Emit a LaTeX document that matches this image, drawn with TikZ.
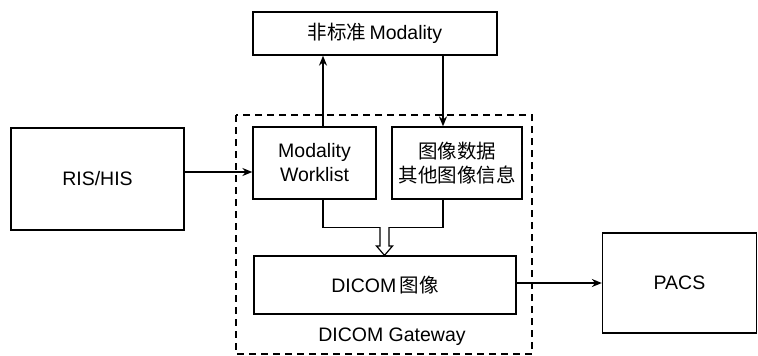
\documentclass[tikz,border=0pt]{standalone}
\usepackage{fontspec}
\setmainfont{Liberation Sans}
\newfontfamily\cjk{Noto Sans CJK SC}
\usetikzlibrary{arrows.meta,calc}
\begin{document}
\begin{tikzpicture}[x=1pt,y=-1pt,
  box/.style={draw,line width=1.3pt,rectangle,inner sep=0pt,align=center,
    font=\fontsize{19.5}{24}\selectfont},
  arr/.style={line width=1.3pt,-{Stealth[length=10pt,width=8pt]}},
  ln/.style={line width=1.3pt}]
\useasboundingbox (0,0) rectangle (758,356);
\fill[white] (0,0) rectangle (758,356);
% dashed gateway frame
\draw[line width=1.6pt,dash pattern=on 7pt off 5pt] (236,115) rectangle (532,354);
\node[font=\fontsize{19.5}{24}\selectfont] (gw) at (392,337) {DICOM Gateway};
% boxes
\node[box,minimum width=244pt,minimum height=43pt] (top) at (375,33.5) {{\cjk 非标准}\,Modality};
\node[box,minimum width=123pt,minimum height=72pt] (wl) at (314.5,163) {Modality\\Worklist};
\node[box,minimum width=130pt,minimum height=72pt] (data) at (457,163) {{\cjk 图像数据}\\{\cjk 其他图像信息}};
\node[box,minimum width=262pt,minimum height=58pt] (dicom) at (385,285) {DICOM\,{\cjk 图像}};
\node[box,minimum width=173pt,minimum height=102pt] (ris) at (97.5,179) {RIS/HIS};
\node[box,minimum width=154pt,minimum height=100pt] (pacs) at (679.5,283) {PACS};
% coordinates
\coordinate (up) at ($(wl.north)+(8.5,0)$);
\coordinate (dn) at ($(data.north)+(-14,0)$);
\coordinate (wb) at ($(wl.south)+(8.5,0)$);
\coordinate (db) at ($(data.south)+(-14,0)$);
\coordinate (jl) at ($(wb)+(0,28)$);
\coordinate (jr) at ($(db)+(0,28)$);
% connectors
\draw[arr] (up) -- (up |- top.south);
\draw[arr] (dn |- top.south) -- (dn);
\draw[arr] (ris.east |- 0,172) -- (wl.west |- 0,172);
\draw[arr] (dicom.east |- 0,283) -- (pacs.west |- 0,283);
\draw[ln] (wb) -- (jl) -- (jr) -- (db);
% hollow double arrow
\coordinate (hb) at (384.5,227);
\draw[line width=1.2pt,fill=white,line join=miter]
  ($(hb)+(-4.5,0)$) -- ($(hb)+(-4.5,19)$) -- ($(hb)+(-8,19)$) --
  (dicom.north -| hb) -- ($(hb)+(8,19)$) -- ($(hb)+(4.5,19)$) -- ($(hb)+(4.5,0)$);
\end{tikzpicture}
\end{document}
